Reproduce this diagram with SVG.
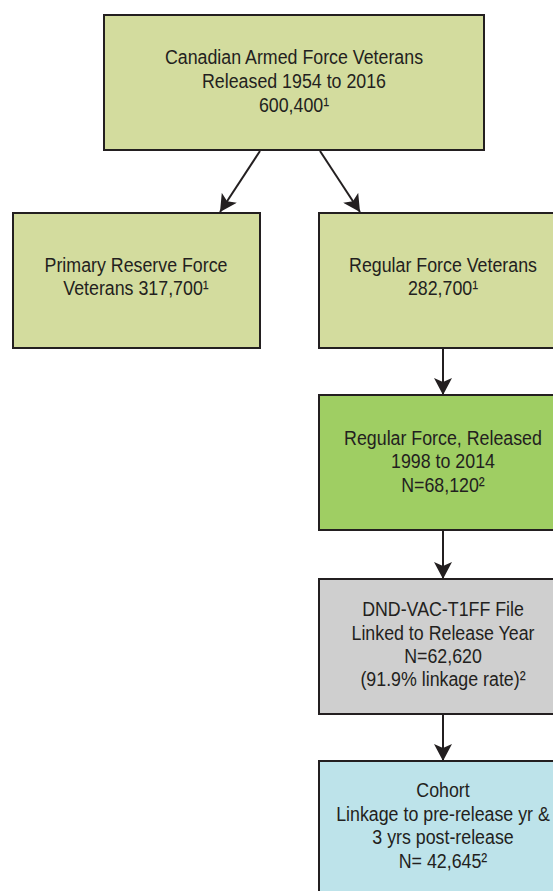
<svg xmlns="http://www.w3.org/2000/svg" width="553" height="891" viewBox="0 0 553 891">
<defs>
<marker id="ah" viewBox="0 0 17 18" refX="17" refY="9" markerWidth="17" markerHeight="18" markerUnits="userSpaceOnUse" orient="auto">
<path d="M0,0 L17,9 L0,18 L4,9 Z" fill="#231f20"/>
</marker>
<style>
.box{stroke:#231f20;stroke-width:2}
.t{font-family:"Liberation Sans",Arial,sans-serif;font-size:20px;fill:#231f20;text-anchor:middle}
.c{stroke:#231f20;stroke-width:2;fill:none;marker-end:url(#ah)}
</style>
</defs>
<rect width="553" height="891" fill="#ffffff"/>
<g id="connectors">
<line class="c" x1="260" y1="151" x2="220" y2="212"/>
<line class="c" x1="320" y1="151" x2="360" y2="212"/>
<line class="c" x1="443" y1="349" x2="443" y2="395"/>
<line class="c" x1="443" y1="531" x2="443" y2="579"/>
<line class="c" x1="443" y1="715" x2="443" y2="761"/>
</g>
<g id="n-caf">
<rect class="box" x="104" y="15" width="380" height="135" fill="#d3dc9e"/>
<text class="t" transform="translate(294,64) scale(0.89,1)">Canadian Armed Force Veterans</text>
<text class="t" transform="translate(294,88) scale(0.89,1)">Released 1954 to 2016</text>
<text class="t" transform="translate(294,112) scale(0.89,1)">600,400¹</text>
</g>
<g id="n-reserve">
<rect class="box" x="13" y="213" width="247" height="135" fill="#d3dc9e"/>
<text class="t" transform="translate(136,272) scale(0.89,1)">Primary Reserve Force</text>
<text class="t" transform="translate(136,295) scale(0.89,1)">Veterans 317,700¹</text>
</g>
<g id="n-regular">
<rect class="box" x="319" y="213" width="248" height="135" fill="#d3dc9e"/>
<text class="t" transform="translate(443,272) scale(0.89,1)">Regular Force Veterans</text>
<text class="t" transform="translate(443,295) scale(0.89,1)">282,700¹</text>
</g>
<g id="n-released">
<rect class="box" x="319" y="395" width="248" height="135" fill="#9fce63"/>
<text class="t" transform="translate(443,445) scale(0.89,1)">Regular Force, Released</text>
<text class="t" transform="translate(443,468) scale(0.89,1)">1998 to 2014</text>
<text class="t" transform="translate(443,492) scale(0.89,1)">N=68,120²</text>
</g>
<g id="n-linked">
<rect class="box" x="319" y="579" width="248" height="135" fill="#cfcfcf"/>
<text class="t" transform="translate(443,616) scale(0.89,1)">DND-VAC-T1FF File</text>
<text class="t" transform="translate(443,640) scale(0.89,1)">Linked to Release Year</text>
<text class="t" transform="translate(443,663) scale(0.89,1)">N=62,620</text>
<text class="t" transform="translate(443,686) scale(0.89,1)">(91.9% linkage rate)²</text>
</g>
<g id="n-cohort">
<rect class="box" x="319" y="761" width="248" height="140" fill="#bde3ea"/>
<text class="t" transform="translate(443,797) scale(0.89,1)">Cohort</text>
<text class="t" transform="translate(443,821) scale(0.89,1)">Linkage to pre-release yr &amp;</text>
<text class="t" transform="translate(443,844) scale(0.89,1)">3 yrs post-release</text>
<text class="t" transform="translate(443,868) scale(0.89,1)">N= 42,645²</text>
</g>
</svg>
